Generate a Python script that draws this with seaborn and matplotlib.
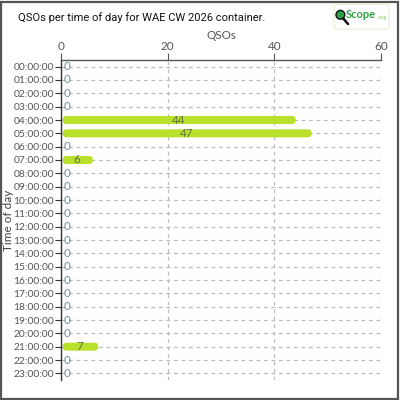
import numpy as np
import pandas as pd
import seaborn as sns
import matplotlib.pyplot as plt
from matplotlib.patches import FancyBboxPatch, Circle

sns.set_theme(style='white')
plt.rcParams['font.family'] = ['Lato', 'DejaVu Sans']

hours = ['%02d:00:00' % h for h in range(24)]
qsos = [0, 0, 0, 0, 44, 47, 0, 6, 0, 0, 0, 0,
        0, 0, 0, 0, 0, 0, 0, 0, 0, 7, 0, 0]

df = pd.DataFrame({'hour': hours, 'qsos': qsos})

bar_color = '#b9e02b'
fig = plt.figure(figsize=(4, 4), dpi=100)
ax = fig.add_axes([0.1525, 0.05, 0.8, 0.80])

sns.barplot(data=df, x='qsos', y='hour', orient='h', color=bar_color,
            width=0.6, ax=ax, saturation=1)

# swap the flat bars for rounded "pill" bars of the same size
# x: 60 units over 320px, y: 24 rows over 320px
aspect = (60 / 320) / (24 / 320)
rx = 0.75
for p, v in list(zip(ax.patches, qsos)):
    p.set_visible(False)
    if v == 0:
        continue
    x0, y0, w, h = p.get_x(), p.get_y(), p.get_width(), p.get_height()
    pill = FancyBboxPatch((x0 + 0.3, y0), w - 0.3, h,
                          boxstyle='round,pad=0,rounding_size=%f' % rx,
                          mutation_aspect=1 / aspect,
                          facecolor=bar_color, edgecolor='none', zorder=2)
    ax.add_patch(pill)

for i, v in enumerate(qsos):
    if v == 0:
        ax.text(0.4, i, '0', va='center', ha='left', fontsize=8.5,
                color='#6f8f98', zorder=3)
    else:
        ax.text(v / 2, i, str(v), va='center', ha='center', fontsize=8.5,
                color='#5f7340', zorder=3)

ax.set_xlim(0, 60)
ax.set_ylim(23.5, -0.5)
ax.set_xticks([0, 20, 40, 60])
ax.xaxis.tick_top()
ax.xaxis.set_label_position('top')
ax.set_xlabel('QSOs', fontsize=8.5, color='#555555', labelpad=1)
ax.set_ylabel('Time of day', fontsize=8.5, color='#444444')
ax.yaxis.set_label_coords(-0.148, 0.5)

ax.tick_params(axis='x', length=5, width=0.8, color='#555555', labelsize=8.5,
               labelcolor='#555555', pad=1, top=True, bottom=False)
ax.tick_params(axis='y', length=4, width=0.8, color='#333333', labelsize=7.4,
               labelcolor='#555555', pad=1, left=True)

ax.grid(True, axis='both', color='#bbbbbb', linestyle=(0, (3, 3)), linewidth=0.9)
ax.set_axisbelow(True)
for s in ['bottom', 'right']:
    ax.spines[s].set_visible(False)
ax.spines['top'].set_color('#555555')
ax.spines['top'].set_linewidth(1.0)
ax.spines['left'].set_color('#333333')
ax.spines['left'].set_linewidth(1.0)

fig.text(0.045, 0.955, 'QSOs per time of day for WAE CW 2026 container.',
         fontsize=8.0, color='#111111', va='center', ha='left',
         family=['Roboto', 'DejaVu Sans'])

# logo
logo = FancyBboxPatch((0.835, 0.927), 0.138, 0.062, boxstyle='round,pad=0,rounding_size=0.008',
                      transform=fig.transFigure, facecolor='white', edgecolor='#e6efcf',
                      linewidth=0.8)
fig.patches.append(logo)
fig.patches.append(Circle((0.851, 0.963), 0.011, transform=fig.transFigure,
                          facecolor='#2ea043', edgecolor='#111111', linewidth=1.0))
fig.lines.append(plt.Line2D([0.858, 0.870], [0.954, 0.940], transform=fig.transFigure,
                            color='#111111', linewidth=1.8))
fig.text(0.865, 0.963, 'Scope', fontsize=8, fontweight='bold', color='#2ea043',
         va='center', ha='left')
fig.text(0.943, 0.955, '.org', fontsize=4, color='#7cc46a', va='center', ha='left')

# figure border
fig.patches.append(plt.Rectangle((0.002, 0.002), 0.994, 0.994, transform=fig.transFigure,
                                 fill=False, edgecolor='#555555', linewidth=1.6))

fig.savefig('out.png', dpi=100)
